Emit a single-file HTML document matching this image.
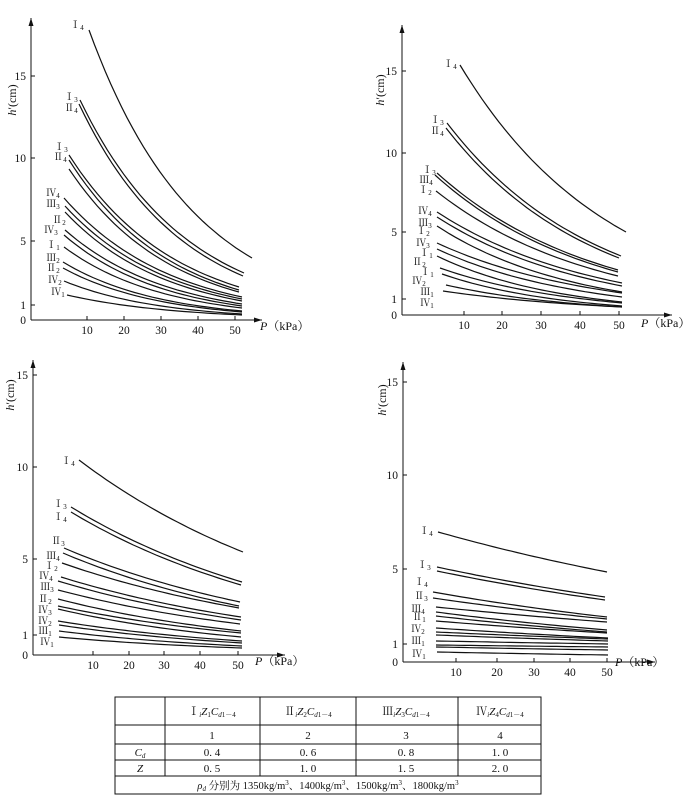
<!DOCTYPE html>
<html><head><meta charset="utf-8"><style>
body{margin:0;background:#fff;}
svg{display:block;}
text{font-family:"Liberation Serif","Noto Serif CJK SC",serif;fill:#111;}
</style></head><body>
<svg id="s" width="687" height="801" xmlns="http://www.w3.org/2000/svg"></svg>
<script>
const s=document.getElementById('s');let out='';
const panels=[
{ax:31,ay:320,top:18,right:262,yt:[[0,320],[1,305],[5,241],[10,158],[15,76]],xt:[[10,87],[20,124],[30,161],[40,198],[50,235]],hl:[12,100],pl:[260,330],
c:[[89,30,252,258],[80,100,244,273],[79,104,243,276],[69,155,239,287],[69,160,239,290],[69,169,239,292],[64,198,242,297],[65,206,242,299],[65,212,242,301],[65,230,242,304],[64,235,242,306],[64,247,242,308],[63,262,242,311],[63,268,242,312],[64,281,242,314],[67,295,242,315]],
l:[["Ⅰ","4",79,25],["Ⅰ","3",73,97],["Ⅱ","4",73,108],["Ⅰ","3",63,147],["Ⅱ","4",62,157],["Ⅳ","4",55,193],["Ⅲ","3",55,204],["Ⅱ","2",61,220],["Ⅳ","3",53,230],["Ⅰ","1",55,245],["Ⅲ","2",55,258],["Ⅱ","2",55,268],["Ⅳ","2",57,280],["Ⅳ","1",60,292]]},
{ax:402,ay:315,top:25,right:672,yt:[[0,315],[1,299],[5,232],[10,153],[15,71]],xt:[[10,464],[20,502],[30,541],[40,580],[50,619]],hl:[380,90],pl:[641,327],
c:[[460,65,626,232],[447,123,621,256],[446,128,619,258],[437,173,618,270],[435,175,618,272],[436,191,618,276],[437,212,622,283],[437,217,622,286],[437,226,622,292],[437,243,622,293],[437,249,622,297],[437,256,622,302],[440,268,622,303],[442,274,622,306],[446,285,622,307],[443,291,622,307]],
l:[["Ⅰ","4",452,64],["Ⅰ","3",439,120],["Ⅱ","4",439,131],["Ⅰ","3",431,170],["Ⅲ","4",428,180],["Ⅰ","2",427,190],["Ⅳ","4",427,211],["Ⅲ","3",427,223],["Ⅰ","2",425,231],["Ⅳ","3",425,243],["Ⅰ","1",428,253],["Ⅱ","2",421,262],["Ⅰ","1",429,272],["Ⅳ","2",421,281],["Ⅲ","1",429,292],["Ⅳ","1",429,303]]},
{ax:33,ay:655,top:360,right:285,yt:[[0,655],[1,635],[5,559],[10,467],[15,375]],xt:[[10,93],[20,129],[30,164],[40,200],[50,238]],hl:[10,395],pl:[255,665],
c:[[79,460,243,552],[71,507,242,582],[71,512,241,585],[64,548,240,602],[63,553,239,606],[62,563,239,608],[61,577,241,617],[58,581,241,620],[58,590,240,624],[58,599,241,631],[58,606,241,633],[58,609,241,637],[58,621,242,641],[59,625,242,643],[59,631,242,646],[59,637,242,648]],
l:[["Ⅰ","4",70,461],["Ⅰ","3",62,504],["Ⅰ","4",62,517],["Ⅱ","3",60,541],["Ⅲ","4",55,556],["Ⅰ","2",53,566],["Ⅳ","4",48,576],["Ⅲ","3",49,587],["Ⅱ","2",47,599],["Ⅳ","3",47,610],["Ⅳ","2",47,621],["Ⅲ","1",47,631],["Ⅳ","1",49,642]]},
{ax:403,ay:662,top:362,right:655,yt:[[0,662],[1,644],[5,569],[10,475],[15,382]],xt:[[10,456],[20,497],[30,534],[40,570],[50,607]],hl:[382,400],pl:[615,666],
c:[[438,532,607,572],[437,567,605,597],[437,571,605,600],[433,592,607,617],[433,598,607,619],[436,607,607,622],[436,612,607,630],[436,616,607,632],[436,621,607,633],[436,628,608,638],[436,632,608,639],[436,635,608,641],[436,641,608,644],[436,645,608,647],[436,647,608,650],[437,652,608,655]],
l:[["Ⅰ","4",428,531],["Ⅰ","3",426,565],["Ⅰ","4",423,582],["Ⅱ","3",423,596],["Ⅲ","4",420,609],["Ⅱ","1",421,617],["Ⅳ","2",420,629],["Ⅲ","1",420,641],["Ⅳ","1",421,654]]}
];
for(const p of panels){
 out+=`<line x1="${p.ax}" y1="${p.ay}" x2="${p.ax}" y2="${p.top}" stroke="#111" stroke-width="1"/>`;
 out+=`<path d="M${p.ax-2.5},${p.top+8} L${p.ax},${p.top} L${p.ax+2.5},${p.top+8}Z" fill="#111"/>`;
 out+=`<line x1="${p.ax}" y1="${p.ay}" x2="${p.right}" y2="${p.ay}" stroke="#111" stroke-width="1"/>`;
 out+=`<path d="M${p.right-8},${p.ay-2.5} L${p.right},${p.ay} L${p.right-8},${p.ay+2.5}Z" fill="#111"/>`;
 for(const [v,y] of p.yt){ if(v) out+=`<line x1="${p.ax}" y1="${y}" x2="${p.ax+4}" y2="${y}" stroke="#111"/>`;
  out+=`<text x="${p.ax-5}" y="${y+4}" font-size="11.5" text-anchor="end">${v}</text>`;}
 for(const [v,x] of p.xt){ out+=`<line x1="${x}" y1="${p.ay}" x2="${x}" y2="${p.ay-4}" stroke="#111"/>`;
  out+=`<text x="${x}" y="${p.ay+14}" font-size="11.5" text-anchor="middle">${v}</text>`;}
 out+=`<text x="${p.pl[0]}" y="${p.pl[1]}" font-size="12"><tspan font-style="italic">P</tspan>（kPa）</text>`;
 out+=`<text transform="translate(${p.hl[0]+4},${p.hl[1]}) rotate(-90)" font-size="12" text-anchor="middle"><tspan font-style="italic">h</tspan>′(cm)</text>`;
 for(const [x0,y0,x1,y1] of p.c){
  const h0=p.ay-y0,h1=p.ay-y1;let d='';
  for(let i=0;i<=30;i++){const t=i/30;const x=x0+t*(x1-x0);const y=p.ay-h0*Math.pow(h1/h0,t);d+=(i?'L':'M')+x.toFixed(1)+','+y.toFixed(1);}
  out+=`<path d="${d}" fill="none" stroke="#111" stroke-width="1.2"/>`;
 }
 for(const [r,n,x,y] of p.l){
  out+=`<text x="${x-2}" y="${y+3}" font-size="10" text-anchor="middle">${r}<tspan font-size="7" dy="2">${n}</tspan></text>`;
 }
}
// table
const L=115,R=541,rows=[697,725,744,760,776,794],cols=[115,165,260,356,458,541];
out+=`<rect x="${L}" y="697" width="${R-L}" height="97" fill="none" stroke="#111" stroke-width="1"/>`;
for(const y of rows.slice(1,5)) out+=`<line x1="${L}" y1="${y}" x2="${R}" y2="${y}" stroke="#111"/>`;
for(const x of cols.slice(1,5)) out+=`<line x1="${x}" y1="697" x2="${x}" y2="776" stroke="#111"/>`;
const cc=[140,212,308,406,500];
const hdr=["Ⅰ","Ⅱ","Ⅲ","Ⅳ"];
for(let i=0;i<4;i++){
 out+=`<text x="${cc[i+1]}" y="715" font-size="11" text-anchor="middle">${hdr[i]}<tspan font-size="7" font-style="italic" dy="2">i</tspan><tspan dy="-2" font-style="italic">Z</tspan><tspan font-size="7" dy="2">${i+1}</tspan><tspan dy="-2" font-style="italic">C</tspan><tspan font-size="7" dy="2"><tspan font-style="italic">d</tspan>1－4</tspan></text>`;
 out+=`<text x="${cc[i+1]}" y="739" font-size="11" text-anchor="middle">${i+1}</text>`;
}
const cd=["0. 4","0. 6","0. 8","1. 0"],z=["0. 5","1. 0","1. 5","2. 0"];
out+=`<text x="140" y="756" font-size="11" text-anchor="middle" font-style="italic">C<tspan font-size="7" dy="2">d</tspan></text>`;
out+=`<text x="140" y="772" font-size="11" text-anchor="middle" font-style="italic">Z</text>`;
for(let i=0;i<4;i++){out+=`<text x="${cc[i+1]}" y="756" font-size="11" text-anchor="middle">${cd[i]}</text>`;out+=`<text x="${cc[i+1]}" y="772" font-size="11" text-anchor="middle">${z[i]}</text>`;}
out+=`<text x="328" y="789" font-size="10.5" text-anchor="middle"><tspan font-style="italic">ρ</tspan><tspan font-size="7" font-style="italic" dy="2">d</tspan><tspan dy="-2"> 分别为 1350kg/m</tspan><tspan font-size="7" dy="-4">3</tspan><tspan dy="4">、1400kg/m</tspan><tspan font-size="7" dy="-4">3</tspan><tspan dy="4">、1500kg/m</tspan><tspan font-size="7" dy="-4">3</tspan><tspan dy="4">、1800kg/m</tspan><tspan font-size="7" dy="-4">3</tspan></text>`;
s.innerHTML=out;
</script>
</body></html>
